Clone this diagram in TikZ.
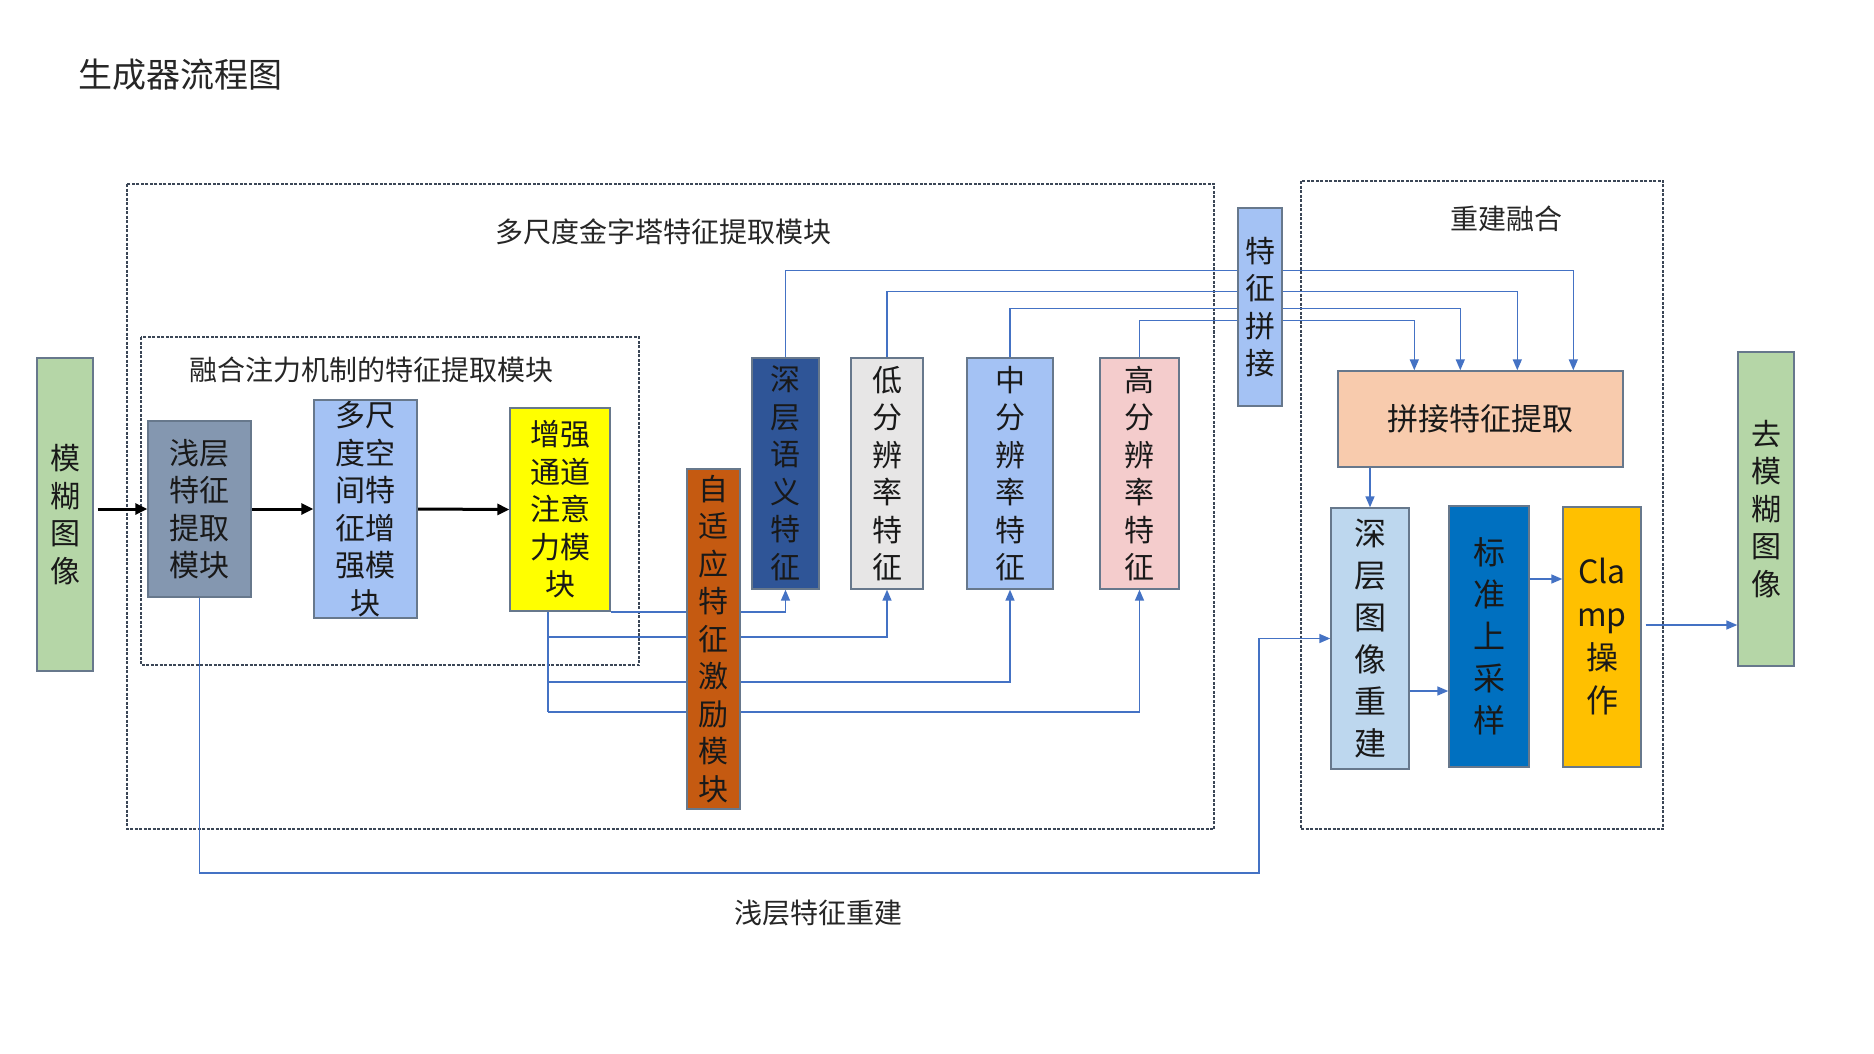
\documentclass[tikz,border=0pt]{standalone}
\usepackage{fontspec}
\setmainfont{Noto Sans CJK SC}
\usetikzlibrary{arrows.meta,backgrounds,calc}
\definecolor{boxline}{HTML}{67788C}
\definecolor{connblue}{HTML}{4472C4}
\definecolor{dashc}{HTML}{3B4656}
\definecolor{cgreen}{HTML}{B5D6A7}
\definecolor{cslate}{HTML}{8497B0}
\definecolor{clblue}{HTML}{A4C2F4}
\definecolor{cyellow}{HTML}{FFFF00}
\definecolor{crust}{HTML}{C55A11}
\definecolor{cnavy}{HTML}{2F5597}
\definecolor{cgray}{HTML}{E7E6E6}
\definecolor{cpink}{HTML}{F4CCCC}
\definecolor{cpeach}{HTML}{F8CBAD}
\definecolor{cpale}{HTML}{BDD7EE}
\definecolor{cblue}{HTML}{0070C0}
\definecolor{corange}{HTML}{FFC000}
\begin{document}
\begin{tikzpicture}[x=1pt,y=-1pt,
  box/.style={draw=boxline, line width=1.4pt, inner sep=0pt, align=center, text=black!90,
    font=\fontsize{30}{37.5}\selectfont},
  bigbox/.style={box, font=\fontsize{32}{42}\selectfont},
  conn/.style={draw=connblue, line width=1.6pt, -{Triangle[length=11pt,width=9pt]}},
  plainline/.style={draw=connblue, line width=1.6pt},
  blk/.style={draw=black, line width=3pt, -{Triangle[length=12pt,width=11pt]}},
  dbox/.style={draw=dashc, line width=1.3pt, dash pattern=on 3pt off 1.5pt},
  lbl/.style={font=\fontsize{28}{34}\selectfont, text=black!85, inner sep=0pt}
]
\useasboundingbox (0,0) rectangle (1874,1054);

% labels
\node[lbl, font=\fontsize{34}{40}\selectfont, anchor=west] (title) at (78,75) {生成器流程图};
\node[lbl] (lmulti) at (663,232) {多尺度金字塔特征提取模块};
\node[lbl] (latt) at (371,370) {融合注力机制的特征提取模块};
\node[lbl] (lrec) at (1506,219) {重建融合};
\node[lbl] (lshallow) at (818,913) {浅层特征重建};

% boxes
\node[box, fill=cgreen, minimum width=56, minimum height=313] (mh) at (65,514.5) {模\\糊\\图\\像};
\node[box, fill=cslate, minimum width=103, minimum height=176] (qc) at (199.5,509) {浅层\\特征\\提取\\模块};
\node[box, fill=clblue, minimum width=103, minimum height=218] (dc) at (365.5,509) {多尺\\度空\\间特\\征增\\强模\\块};
\node[box, fill=cyellow, minimum width=100, minimum height=203] (zq) at (560,509.5) {增强\\通道\\注意\\力模\\块};
\node[box, fill=crust, minimum width=53, minimum height=340] (zs) at (713.5,639) {自\\适\\应\\特\\征\\激\\励\\模\\块};
\node[box, fill=cnavy, minimum width=67, minimum height=231] (sy) at (785.5,473.5) {深\\层\\语\\义\\特\\征};
\node[box, fill=cgray, minimum width=72, minimum height=231] (di) at (887,473.5) {低\\分\\辨\\率\\特\\征};
\node[box, fill=clblue, minimum width=86, minimum height=231] (zh) at (1010,473.5) {中\\分\\辨\\率\\特\\征};
\node[box, fill=cpink, minimum width=79, minimum height=231] (gao) at (1139.5,473.5) {高\\分\\辨\\率\\特\\征};
\node[box, fill=clblue, minimum width=44, minimum height=198] (tz) at (1260,307) {特\\征\\拼\\接};
\node[box, fill=cpeach, minimum width=285, minimum height=96, font=\fontsize{31}{37}\selectfont] (pj) at (1480.5,419) {拼接特征提取};
\node[bigbox, fill=cpale, minimum width=78, minimum height=261] (sr) at (1370,638.5) {深\\层\\图\\像\\重\\建};
\node[bigbox, fill=cblue, minimum width=80, minimum height=261] (bz) at (1489,636.5) {标\\准\\上\\采\\样};
\node[bigbox, fill=corange, minimum width=78, minimum height=260, font=\fontsize{32}{43}\selectfont] (cl) at (1602,637) {Cla\\mp\\操\\作};
\node[box, fill=cgreen, minimum width=56, minimum height=314] (qm) at (1766,509) {去\\模\\糊\\图\\像};

% helper coordinates
\coordinate (tk) at (548,611);
\coordinate (j1) at (548,637);
\coordinate (j2) at (548,682);
\coordinate (j3) at (548,712);
\coordinate (sk) at (1259,873);

\begin{pgfonlayer}{background}
\fill[white] (0,0) rectangle (1874,1054);
% dashed groups
\draw[dbox] (127,184) rectangle (1214,829);
\draw[dbox] (141,337) rectangle (639,665);
\draw[dbox] (1301,181) rectangle (1663,829);

% black main flow
\draw[blk] ([xshift=4pt]qc.west -| mh.east) -- (qc.west);
\draw[blk] (qc.east) -- (dc.west);
\draw[blk] (dc.east) -- (zq.west);

% from attention module to the pyramid features (behind the excitation module)
\draw[plainline] (tk) -- (j3);
\draw[conn] (zq.south east) -| (sy.south);
\draw[conn] (j1) -| (di.south);
\draw[conn] (j2) -| (zh.south);
\draw[conn] (j3) -| (gao.south);

% features to concatenation (behind the concat box)
\draw[conn] (sy.north) -- ++(0,-87) -| ($(pj.north west)+(236,0)$);
\draw[conn] (di.north) -- ++(0,-66) -| ($(pj.north west)+(180,0)$);
\draw[conn] (zh.north) -- ++(0,-49) -| ($(pj.north west)+(123,0)$);
\draw[conn] (gao.north) -- ++(0,-37) -| ($(pj.north west)+(77,0)$);

% reconstruction
\draw[conn] (pj.south -| sr.north) -- (sr.north);
\draw[conn] ($(sr.east)+(0,52.5)$) -- ($(bz.west)+(0,54.5)$);
\draw[conn] ($(bz.east)+(0,-57.5)$) -- ($(cl.west)+(0,-58)$);
\draw[conn] ($(cl.east)+(4,-12)$) -- ($(qm.west)+(0,116)$);

% shallow feature skip
\draw[conn] (qc.south) |- (sk) |- (sr.west);
\end{pgfonlayer}
\end{tikzpicture}
\end{document}
